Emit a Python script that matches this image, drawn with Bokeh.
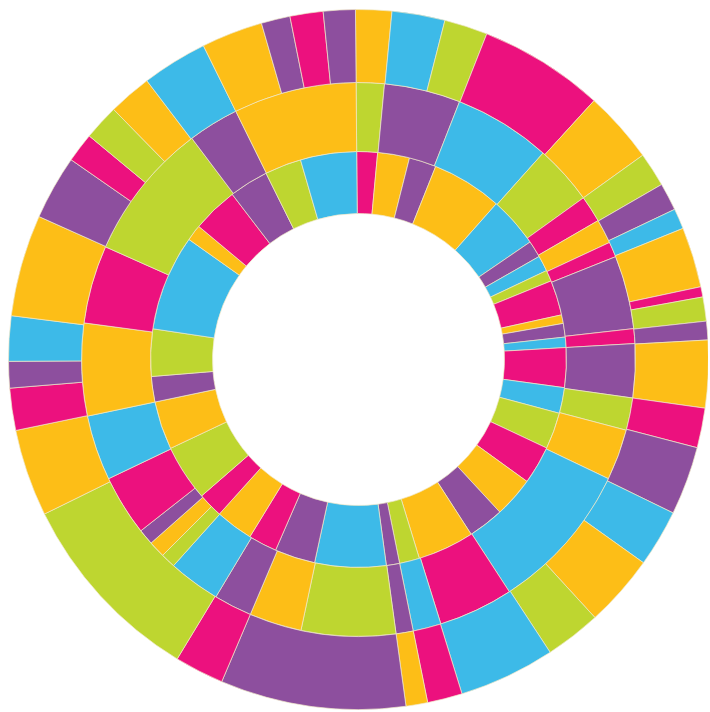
import numpy as np
from bokeh.plotting import figure
from bokeh.models import Range1d, ColumnDataSource
from bokeh.embed import file_html
from bokeh.resources import INLINE

# Angles are bearings in degrees, clockwise from 12 o'clock.
inner_edges = [-0.5, 5.3, 14.2, 21.8, 41.5, 55.6, 60.3, 64.7, 67.8, 77.6, 80.0, 83.8, 86.7,
               97.8, 105.0, 115.2, 125.9, 137.2, 147.2, 163.0, 168.6, 172.3, 192.2, 203.5,
               211.5, 222.0, 229.0, 244.7, 258.2, 265.3, 278.5, 305.3, 309.8, 322.6, 333.6,
               343.8, 359.5]
inner_colors = ["magenta", "yellow", "purple", "yellow", "cyan", "purple", "cyan", "lime",
                "magenta", "yellow", "purple", "cyan", "magenta", "cyan", "lime", "magenta",
                "yellow", "purple", "yellow", "lime", "purple", "cyan", "purple", "magenta",
                "yellow", "magenta", "lime", "yellow", "purple", "lime", "cyan", "yellow",
                "magenta", "purple", "lime", "cyan"]

middle_edges = [-0.5, 5.4, 21.4, 41.8, 54.3, 59.9, 65.0, 68.2, 83.6, 86.7, 98.0, 104.8,
                115.5, 147.0, 162.7, 168.6, 172.2, 192.0, 203.0, 211.0, 221.9, 225.0, 228.5,
                231.8, 244.5, 258.2, 277.6, 294.0, 323.0, 333.7, 359.5]
middle_colors = ["lime", "purple", "cyan", "lime", "magenta", "yellow", "magenta", "purple",
                 "magenta", "purple", "lime", "yellow", "cyan", "magenta", "cyan", "purple",
                 "lime", "yellow", "purple", "cyan", "lime", "yellow", "purple", "magenta",
                 "cyan", "yellow", "magenta", "lime", "purple", "yellow"]

outer_edges = [-0.5, 5.5, 14.3, 21.5, 42.3, 54.3, 60.0, 64.6, 68.0, 78.0, 79.7, 83.7, 86.8,
               98.0, 104.6, 116.0, 125.5, 137.5, 146.8, 162.8, 168.6, 172.2, 203.0, 211.2,
               243.8, 258.3, 265.3, 269.7, 277.2, 294.1, 304.8, 309.7, 315.6, 322.8, 333.7,
               343.9, 348.7, 354.2, 359.5]
outer_colors = ["yellow", "cyan", "lime", "magenta", "yellow", "lime", "purple", "cyan",
                "yellow", "magenta", "lime", "purple", "yellow", "magenta", "purple", "cyan",
                "yellow", "lime", "cyan", "magenta", "yellow", "purple", "magenta", "lime",
                "yellow", "magenta", "purple", "cyan", "yellow", "purple", "magenta", "lime",
                "yellow", "cyan", "yellow", "purple", "magenta", "purple"]

palette = {"yellow": "#FDBE17", "cyan": "#3DBAE8", "magenta": "#EC117E",
           "purple": "#8D4F9E", "lime": "#BED630"}

ring_radii = [(146, 208), (208, 277), (277, 350)]
rings = [(inner_edges, inner_colors), (middle_edges, middle_colors), (outer_edges, outer_colors)]

W, H = 708, 710
CX, CY = 358, 359  # pixel position of the centre from the top-left corner
p = figure(width=W, height=H, output_backend="svg", toolbar_location=None,
           x_range=Range1d(-CX, W - CX), y_range=Range1d(CY - H, CY),
           min_border=0)
p.axis.visible = False
p.grid.visible = False
p.outline_line_color = None
p.background_fill_color = "white"
p.border_fill_color = "white"

for (edges, colors), (r0, r1) in zip(rings, ring_radii):
    e = np.array(edges, dtype=float)
    b1, b2 = e[:-1], e[1:]
    src = ColumnDataSource(dict(
        start=np.radians(90 - b2), end=np.radians(90 - b1),
        color=[palette[c] for c in colors]))
    p.annular_wedge(x=0, y=0, inner_radius=r0, outer_radius=r1,
                    start_angle="start", end_angle="end", fill_color="color",
                    line_color="#EFE8C8", line_width=0.7, source=src)

open("out.html", "w").write(file_html(p, INLINE))
